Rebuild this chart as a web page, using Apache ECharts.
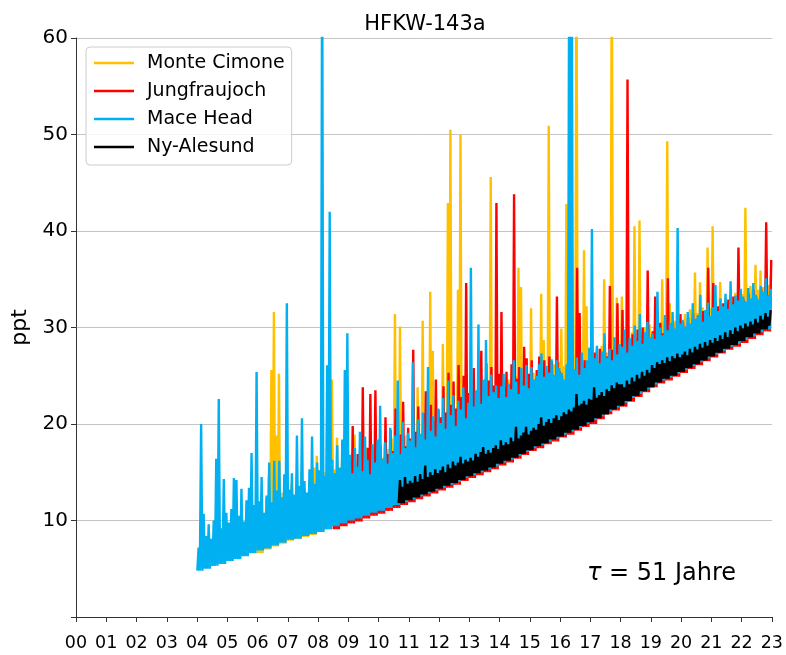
<!DOCTYPE html>
<html><head><meta charset="utf-8">
<script src="https://cdn.jsdelivr.net/npm/echarts@6/dist/echarts.min.js"></script>
<style>html,body{margin:0;padding:0;background:#fff}#c{width:786px;height:655px}</style>
</head><body><div id="c"></div>
<script>
// x axis: years since 2000
const xTickLabels = ['00','01','02','03','04','05','06','07','08','09','10','11','12','13','14','15','16','17','18','19','20','21','22','23'];
const seriesNames = ['Monte Cimone','Jungfraujoch','Mace Head','Ny-Alesund'];
const seriesColors = ['#ffc000','#ff0000','#00b0f0','#000000'];

// Monte Cimone: monthly upper readings from 2006.0, quarterly lower readings
const cimoneStart = 6.0;
const cimoneLow = [
 6.6, 7.0, 7.3, 7.6,  7.9, 8.1, 8.3, 8.5,  8.8, 9.1, 9.4, 9.7,  9.9, 10.2, 10.5, 10.8,
 11.0, 11.3, 11.6, 11.9,  12.1, 12.4, 12.7, 13.0,  13.3, 13.6, 13.9, 14.3,  14.6, 14.9, 15.2, 15.5,
 15.9, 16.2, 16.6, 17.0,  17.4, 17.7, 18.1, 18.4,  18.8, 19.1, 19.5, 19.9,  20.2, 20.7, 21.2, 21.6,
 22.0, 22.5, 23.0, 23.5,  24.0, 24.4, 24.7, 25.1,  25.5, 25.9, 26.3, 26.7,  27.1, 27.5, 27.9, 28.2,
 28.6, 29.0, 29.4, 29.8];
const cimoneHigh = [
 11.2, 13.0, 9.8, 12.4, 14.6, 25.6, 31.6, 18.8, 25.2, 12.9, 11.5, 14.0,
 12.6, 13.8, 11.9, 14.5, 12.2, 15.1, 13.4, 12.8, 14.2, 13.0, 15.5, 16.7,
 14.1, 13.3, 15.0, 14.4, 16.2, 24.6, 15.3, 18.6, 14.8, 16.0, 15.1, 17.2,
 15.6, 16.4, 18.9, 15.2, 17.0, 16.1, 15.8, 17.6, 16.3, 15.9, 17.3, 16.6,
 17.1, 16.5, 18.0, 17.4, 16.8, 18.5, 31.4, 17.9, 30.1, 17.3, 18.8, 17.6,
 18.2, 19.0, 17.8, 23.8, 18.6, 30.7, 19.4, 18.9, 33.7, 27.6, 19.8, 20.4,
 19.5, 28.3, 20.1, 42.9, 50.5, 20.8, 21.4, 33.9, 50.0, 21.0, 22.2, 21.6,
 21.8, 22.6, 21.3, 23.1, 22.0, 22.9, 23.7, 22.4, 45.6, 23.2, 22.8, 24.0,
 23.5, 24.1, 23.0, 24.6, 23.8, 24.3, 25.0, 36.2, 34.2, 24.5, 25.2, 24.8,
 32.0, 25.3, 24.7, 25.6, 33.5, 28.7, 25.1, 50.9, 25.8, 26.2, 25.5, 26.4,
 29.9, 26.0, 42.8, 25.7, 26.5, 27.1, 70.0, 26.8, 27.4, 38.0, 32.2, 27.9,
 27.2, 26.6, 27.8, 26.3, 28.1, 35.0, 27.4, 28.3, 70.0, 27.6, 33.1, 28.0,
 33.2, 28.4, 29.1, 28.6, 29.5, 40.5, 28.9, 41.1, 29.3, 30.0, 29.6, 30.3,
 29.3, 30.1, 29.0, 29.8, 35.0, 30.4, 49.3, 32.5, 29.6, 30.7, 30.2, 31.0,
 30.6, 31.4, 30.2, 31.9, 31.0, 35.7, 31.5, 34.7, 32.1, 31.3, 38.3, 32.0,
 40.5, 32.6, 31.8, 34.7, 32.3, 33.0, 32.5, 33.4, 32.7, 33.6, 32.9, 33.8,
 33.5, 42.4, 33.2, 34.3, 33.7, 36.5, 33.9, 35.9, 34.2, 34.8, 34.4, 35.3];

// Jungfraujoch: from 2008.5
const jungfrauStart = 8.5;
const jungfrauLow = [
 9.1, 9.4,  9.7, 9.9, 10.2, 10.5,  10.7, 11.0, 11.3, 11.6,  11.9, 12.2, 12.5, 12.8,
 13.1, 13.4, 13.7, 14.1,  14.4, 14.7, 15.0, 15.3,  15.7, 16.0, 16.4, 16.8,  17.2, 17.5, 17.9, 18.2,
 18.6, 18.9, 19.3, 19.7,  20.0, 20.5, 21.0, 21.4,  21.8, 22.3, 22.8, 23.3,  23.8, 24.2, 24.5, 24.9,
 25.3, 25.7, 26.1, 26.5,  26.9, 27.3, 27.7, 28.0,  28.4, 28.8, 29.2, 29.6];
const jungfrauHigh = [
 12.0, 14.5, 11.8, 18.2, 13.1, 15.4,
 14.2, 19.8, 13.6, 16.9, 15.3, 23.8, 14.8, 17.5, 23.1, 15.9, 23.5, 16.4,
 17.8, 15.6, 20.7, 16.9, 19.4, 17.2, 21.6, 16.5, 18.9, 22.3, 17.7, 19.6,
 18.5, 27.7, 19.2, 21.8, 18.9, 21.1, 23.4, 19.6, 22.0, 20.3, 24.6, 21.5,
 20.7, 23.9, 21.2, 25.3, 22.0, 24.4, 21.6, 26.1, 22.8, 25.0, 34.6, 23.2,
 23.4, 25.8, 22.9, 24.7, 27.6, 23.8, 26.3, 24.5, 25.9, 24.0, 42.9, 25.2,
 31.6, 23.8, 25.4, 24.1, 26.2, 43.8, 24.7, 25.9, 24.3, 28.0, 26.8, 25.2,
 26.6, 24.1, 25.6, 27.0, 24.8, 26.6, 25.0, 27.0, 26.5, 24.7, 33.2, 25.5,
 25.0, 24.2, 25.7, 24.5, 26.3, 25.1, 36.2, 31.5, 25.4, 26.6, 25.8, 27.1,
 26.2, 27.4, 25.9, 27.8, 26.6, 28.3, 27.0, 34.3, 27.7, 28.0, 32.5, 27.4,
 31.8, 28.1, 55.7, 27.9, 29.3, 28.4, 29.8, 28.6, 30.0, 29.2, 35.9, 28.9,
 29.6, 33.2, 29.0, 30.5, 29.4, 30.8, 35.1, 29.9, 30.4, 29.7, 30.9, 31.4,
 30.6, 29.9, 31.0, 30.3, 31.5, 30.1, 31.2, 30.8, 31.7, 30.5, 36.2, 31.1,
 34.6, 31.4, 32.2, 31.8, 32.5, 31.6, 32.9, 32.0, 33.2, 31.9, 38.3, 32.6,
 32.9, 32.4, 33.5, 32.8, 33.9, 33.2, 32.7, 34.0, 33.6, 40.9, 33.3, 37.0];

// Mace Head: from 2004.0
const maceStart = 4.0;
const maceLow = [
 4.8, 5.0, 5.3, 5.5,  5.8, 6.0, 6.3, 6.6,  6.9, 7.1, 7.4, 7.7,  8.0, 8.1, 8.4, 8.6,
 8.8, 9.1, 9.4, 9.7,  10.0, 10.2, 10.5, 10.8,  11.0, 11.3, 11.6, 11.9,  12.2, 12.5, 12.8, 13.1,
 13.4, 13.7, 14.0, 14.4,  14.7, 15.0, 15.3, 15.6,  16.0, 16.3, 16.7, 17.1,  17.5, 17.8, 18.2, 18.5,
 18.9, 19.2, 19.6, 20.0,  20.4, 20.8, 21.3, 21.7,  22.2, 22.7, 23.1, 23.6,  24.1, 24.5, 24.8, 25.2,
 25.6, 26.0, 26.4, 26.8,  27.2, 27.6, 28.0, 28.3,  28.7, 29.1, 29.5, 29.8];
const maceHigh = [
 7.2, 20.0, 10.7, 8.4, 9.6, 8.1, 10.0, 16.4, 22.6, 9.2, 14.3, 10.8,
 9.8, 11.2, 14.4, 14.2, 10.5, 13.3, 9.9, 12.1, 13.4, 17.0, 11.6, 25.4,
 12.0, 14.5, 10.8, 12.6, 16.0, 11.9, 16.2, 13.1, 16.2, 12.4, 14.8, 32.5,
 13.2, 14.9, 12.7, 18.8, 13.6, 20.6, 14.1, 12.9, 15.3, 18.7, 13.8, 16.0,
 15.2, 70.0, 14.6, 26.1, 42.0, 16.3, 14.9, 17.8, 15.5, 18.4, 25.6, 29.4,
 16.8, 14.9, 17.5, 15.6, 19.2, 15.1, 18.7, 16.3, 14.8, 17.9, 16.0, 18.4,
 21.9, 16.4, 18.1, 15.9, 19.6, 17.0, 18.8, 24.5, 16.9, 20.2, 17.5, 19.1,
 18.3, 26.4, 17.6, 20.5, 19.0, 21.2, 18.4, 25.9, 19.3, 20.8, 18.7, 21.6,
 20.1, 22.7, 19.5, 24.5, 20.9, 23.0, 19.8, 22.4, 21.5, 23.8, 20.6, 22.2,
 36.2, 21.8, 23.5, 30.3, 22.1, 24.6, 28.7, 22.9, 25.1, 23.3, 24.0, 22.7,
 23.9, 25.2, 22.8, 24.2, 23.6, 26.6, 24.4, 23.1, 25.8, 24.0, 26.1, 23.7,
 25.9, 24.6, 25.0, 26.2, 27.3, 24.9, 26.0, 25.3, 26.7, 25.1, 26.6, 25.8,
 25.3, 24.6, 26.2, 70.0, 70.0, 25.7, 26.9, 25.1, 27.4, 25.8, 26.6, 27.9,
 40.2, 26.8, 28.1, 26.3, 27.5, 29.4, 26.9, 27.8, 26.6, 29.0, 27.2, 28.3,
 28.0, 29.8, 27.4, 28.9, 28.1, 30.2, 28.6, 31.4, 28.3, 29.5, 30.6, 29.0,
 29.4, 28.8, 33.7, 30.0, 29.2, 31.3, 29.7, 30.5, 31.6, 29.9, 40.3, 30.4,
 30.8, 30.1, 31.6, 30.4, 32.5, 30.9, 31.3, 33.4, 30.6, 31.8, 32.6, 31.2,
 32.1, 34.4, 31.7, 33.0, 32.2, 33.5, 31.9, 34.8, 32.4, 33.3, 32.8, 34.0,
 33.2, 32.7, 34.1, 33.0, 34.6, 33.4, 32.9, 34.3, 33.7, 35.1, 33.3, 34.0];

// Ny-Alesund: from 2010 + 8/12
const nyStart = 10 + 8 / 12;
const nyLow = [
 11.8, 12.1,  12.4, 12.7, 13.0, 13.3,  13.6, 13.9, 14.2, 14.6,  14.9, 15.2, 15.5, 15.9,
 16.2, 16.5, 16.9, 17.3,  17.7, 18.0, 18.4, 18.7,  19.1, 19.4, 19.8, 20.2,  20.6, 21.0, 21.5, 21.9,
 22.4, 22.9, 23.4, 23.8,  24.3, 24.7, 25.0, 25.4,  25.8, 26.2, 26.6, 27.0,  27.4, 27.8, 28.2, 28.6,
 29.0, 29.4, 29.8, 30.2];
const nyHigh = [
 14.2, 13.5, 14.5, 13.8,
 14.1, 13.9, 14.6, 14.0, 14.8, 14.3, 15.7, 14.5, 15.0, 14.7, 15.3, 14.9,
 15.2, 15.6, 15.0, 15.8, 15.4, 16.1, 15.7, 16.0, 16.6, 15.9, 16.3, 16.1,
 16.5, 16.2, 16.9, 16.6, 17.1, 17.6, 16.9, 17.3, 17.0, 17.5, 17.8, 17.4,
 18.3, 17.8, 18.1, 17.9, 18.6, 18.2, 19.7, 18.5, 18.8, 19.1, 19.7, 18.9,
 19.3, 19.6, 19.4, 20.0, 20.7, 19.8, 20.2, 20.5, 20.1, 20.6, 20.9, 20.4,
 20.8, 21.2, 21.0, 21.5, 21.3, 21.7, 23.1, 21.9, 22.1, 22.4, 22.0, 22.6,
 22.5, 23.8, 22.7, 23.0, 23.3, 22.9, 23.6, 23.4, 24.0, 23.7, 24.3, 24.1,
 24.1, 23.8, 24.5, 24.1, 24.8, 24.4, 25.1, 24.7, 25.4, 25.0, 25.6, 25.3,
 26.1, 25.8, 26.4, 26.2, 26.6, 26.3, 26.9, 26.5, 27.0, 26.8, 27.3, 26.9,
 27.2, 27.5, 27.1, 27.8, 27.4, 28.0, 27.7, 28.3, 27.9, 28.5, 28.1, 28.7,
 28.4, 28.9, 28.6, 29.2, 28.8, 29.5, 29.0, 29.7, 29.3, 30.0, 29.6, 30.2,
 29.9, 30.4, 30.1, 30.6, 30.3, 30.9, 30.5, 31.2, 30.8, 31.5, 31.1, 31.8];

const annotationText = '{i|τ} = 51 Jahre';

function zigzag(start, lows, highs, phase) {
  const d = [];
  for (let i = 0; i < highs.length; i++) {
    const t = start + i / 12 + phase;
    d.push([t, lows[Math.floor(i / 3)]]);
    d.push([t + 1 / 24, highs[i]]);
  }
  return d;
}

const seriesData = [
  zigzag(cimoneStart, cimoneLow, cimoneHigh, 0.0),
  zigzag(jungfrauStart, jungfrauLow, jungfrauHigh, 1 / 48),
  zigzag(maceStart, maceLow, maceHigh, 1 / 96),
  zigzag(nyStart, nyLow, nyHigh, 0.0)
];

const FONT = 'DejaVu Sans';
const chart = echarts.init(document.getElementById('c'), null, {renderer: 'canvas'});
chart.setOption({
  animation: false,
  backgroundColor: '#ffffff',
  title: {
    text: 'HFKW-143a', left: 420, top: 9, textAlign: 'center',
    textStyle: {fontFamily: FONT, fontSize: 21, fontWeight: 'normal', color: '#000'}
  },
  legend: {
    orient: 'vertical', left: 86, top: 47,
    data: seriesNames.map(n => ({name: n, icon: 'rect'})),
    itemWidth: 40, itemHeight: 2.5, itemGap: 8,
    padding: [6, 7, 8, 8],
    backgroundColor: 'rgba(255,255,255,0.85)',
    borderColor: '#cccccc', borderWidth: 1, borderRadius: 4,
    textStyle: {fontFamily: FONT, fontSize: 19, color: '#000', lineHeight: 20, padding: [0, 0, 0, 8]}
  },
  grid: {left: 76, right: 14, top: 38, bottom: 38, containLabel: false},
  xAxis: {
    type: 'value', min: 0, max: 23, interval: 1,
    axisLine: {show: true, onZero: false, lineStyle: {color: '#333', width: 1}},
    axisTick: {show: true, length: 5, lineStyle: {color: '#333'}},
    axisLabel: {
      formatter: v => xTickLabels[Math.round(v)], margin: 17,
      fontFamily: FONT, fontSize: 17.5, color: '#000'
    },
    splitLine: {show: false}
  },
  yAxis: {
    type: 'value', min: 0, max: 60, interval: 10,
    name: 'ppt', nameLocation: 'middle', nameGap: 36,
    nameTextStyle: {fontFamily: FONT, fontSize: 22, color: '#000'},
    axisLine: {show: true, lineStyle: {color: '#333', width: 1}},
    axisTick: {show: true, length: 5, lineStyle: {color: '#333'}},
    axisLabel: {
      formatter: v => (v === 0 ? '' : String(v)), margin: 8,
      fontFamily: FONT, fontSize: 20, color: '#000'
    },
    splitLine: {show: true, lineStyle: {color: '#c4c4c4', width: 1}}
  },
  series: seriesNames.map((n, k) => ({
    name: n, type: 'line', data: seriesData[k],
    symbol: 'none', showSymbol: false, clip: true,
    lineStyle: {color: seriesColors[k], width: 2.4, join: 'bevel'},
    itemStyle: {color: seriesColors[k]},
    z: 2 + k
  })),
  graphic: [{
    type: 'text', left: 587, top: 562, z: 100,
    style: {
      text: annotationText, fill: '#000', fontFamily: FONT, fontSize: 24,
      rich: {i: {fontStyle: 'italic', fontFamily: FONT, fontSize: 24, fill: '#000'}}
    }
  }]
});
</script></body></html>
